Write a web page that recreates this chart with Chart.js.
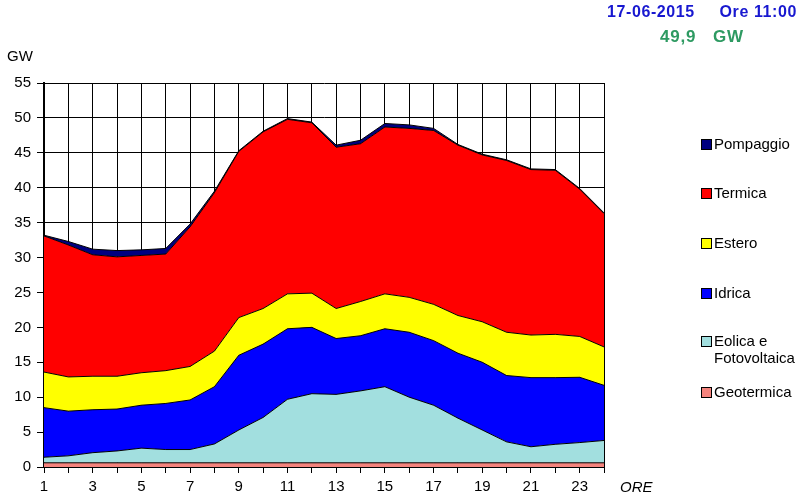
<!DOCTYPE html>
<html>
<head>
<meta charset="utf-8">
<script src="https://cdn.jsdelivr.net/npm/chart.js@4"></script>
<style>
  html, body { margin: 0; padding: 0; background: #fff; }
  #wrap { position: relative; width: 800px; height: 504px; font-family: "Liberation Sans", Arial, sans-serif; }
  canvas { position: absolute; left: 0; top: 0; }
  .t { position: absolute; white-space: nowrap; }
  .lg { position: absolute; left: 701px; font-size: 15px; color: #000; line-height: 17px; }
  .lg .box { position: absolute; left: 0; top: 4px; width: 9px; height: 9px; border: 1px solid #000; }
  .lg .txt { position: absolute; left: 13px; top: 0; white-space: nowrap; }
</style>
</head>
<body>
<div id="wrap">
  <canvas id="c" width="800" height="504"></canvas>
  <div class="t" style="left:607px; top:3px; font-size:16px; font-weight:bold; color:#1818d0; letter-spacing:0.6px;">17-06-2015</div>
  <div class="t" style="right:3px; top:3px; font-size:16px; font-weight:bold; color:#1818d0; letter-spacing:0.6px;">Ore 11:00</div>
  <div class="t" style="left:660px; top:27px; font-size:17px; font-weight:bold; color:#2e9a62; letter-spacing:0.8px;">49,9</div>
  <div class="t" style="left:713px; top:27px; font-size:17px; font-weight:bold; color:#2e9a62; letter-spacing:0.8px;">GW</div>
  <div class="t" style="left:7px; top:47px; font-size:15px; color:#000;">GW</div>
  <div class="t" style="left:620px; top:478px; font-size:15px; font-style:italic; color:#000;">ORE</div>
  <div id="legend"></div>
</div>
<script>
const hours = ["1","2","3","4","5","6","7","8","9","10","11","12","13","14","15","16","17","18","19","20","21","22","23","24"];
const geotermica = [0.6,0.6,0.6,0.6,0.6,0.6,0.6,0.6,0.6,0.6,0.6,0.6,0.6,0.6,0.6,0.6,0.6,0.6,0.6,0.6,0.6,0.6,0.6,0.6];
const eolicaFotovoltaica = [0.8,1.0,1.45,1.7,2.1,1.9,1.9,2.7,4.7,6.5,9.1,9.9,9.8,10.3,10.9,9.4,8.25,6.4,4.7,3.0,2.3,2.65,2.9,3.2];
const idrica = [7.1,6.4,6.15,6.0,6.15,6.6,7.1,8.2,10.7,10.5,10.1,9.5,8.0,7.9,8.3,9.3,9.25,9.3,9.7,9.5,9.9,9.55,9.35,7.9];
const estero = [5.1,4.9,4.8,4.7,4.65,4.7,4.8,5.1,5.4,5.1,5.0,4.9,4.3,4.9,5.0,5.0,5.2,5.4,5.8,6.2,6.1,6.2,5.85,5.5];
const termica = [19.5,18.9,17.4,17.1,16.8,16.7,20.0,22.7,23.8,25.3,25.0,24.4,23.1,22.6,23.9,24.2,24.9,24.4,23.9,24.6,23.7,23.5,21.1,19.1];
const pompaggio = [0.1,0.5,0.8,0.9,0.8,0.8,0.4,0.2,0.1,0.1,0.1,0.1,0.3,0.5,0.5,0.5,0.3,0.1,0.1,0.1,0.1,0.1,0.1,0.1];
const seriesNames = ["Geotermica", "Eolica e Fotovoltaica", "Idrica", "Estero", "Termica", "Pompaggio"];
const seriesColors = ["#f4837d", "#a2dfdf", "#0000ff", "#ffff00", "#ff0000", "#000080"];
const yTicks = [0,5,10,15,20,25,30,35,40,45,50,55];

const values = [geotermica, eolicaFotovoltaica, idrica, estero, termica, pompaggio];
const datasets = values.map((v, i) => ({
  label: seriesNames[i],
  data: v,
  backgroundColor: seriesColors[i],
  borderColor: "#000",
  borderWidth: 1,
  pointRadius: 0,
  tension: 0,
  fill: i === 0 ? "origin" : "-1"
}));

new Chart(document.getElementById("c"), {
  type: "line",
  data: { labels: hours, datasets },
  options: {
    responsive: false,
    animation: false,
    layout: { padding: { top: 83, right: 196, left: 0, bottom: 0 } },
    plugins: { legend: { display: false }, tooltip: { enabled: false } },
    scales: {
      x: {
        offset: false,
        grid: { color: "#000", lineWidth: 1, tickLength: 6, drawTicks: true },
        border: { color: "#000", width: 2 },
        ticks: {
          autoSkip: false, maxRotation: 0, color: "#000", padding: 5,
          font: { family: "Liberation Sans, Arial", size: 15 },
          callback: function (val, idx) { return (idx % 2 === 0) ? hours[idx] : ""; }
        },
        afterFit: function (s) { s.height = 37; }
      },
      y: {
        stacked: true,
        min: 0, max: 55,
        afterBuildTicks: function (s) { s.ticks = yTicks.map(v => ({ value: v })); },
        grid: { color: "#000", lineWidth: 1, tickLength: 7 },
        border: { color: "#000", width: 2 },
        ticks: { color: "#000", padding: 6, font: { family: "Liberation Sans, Arial", size: 15 } },
        afterFit: function (s) { s.width = 44; }
      }
    }
  }
});

// HTML legend (reverse order, as in reference)
const legendTops = [383, 332, 284, 234, 184, 135];
const lg = document.getElementById("legend");
seriesNames.forEach((name, i) => {
  const d = document.createElement("div");
  d.className = "lg";
  d.style.top = legendTops[i] + "px";
  const b = document.createElement("div");
  b.className = "box";
  b.style.background = seriesColors[i];
  const t = document.createElement("div");
  t.className = "txt";
  t.innerHTML = name === "Eolica e Fotovoltaica" ? "Eolica e<br>Fotovoltaica" : name;
  d.appendChild(b); d.appendChild(t);
  lg.appendChild(d);
});
</script>
</body>
</html>
